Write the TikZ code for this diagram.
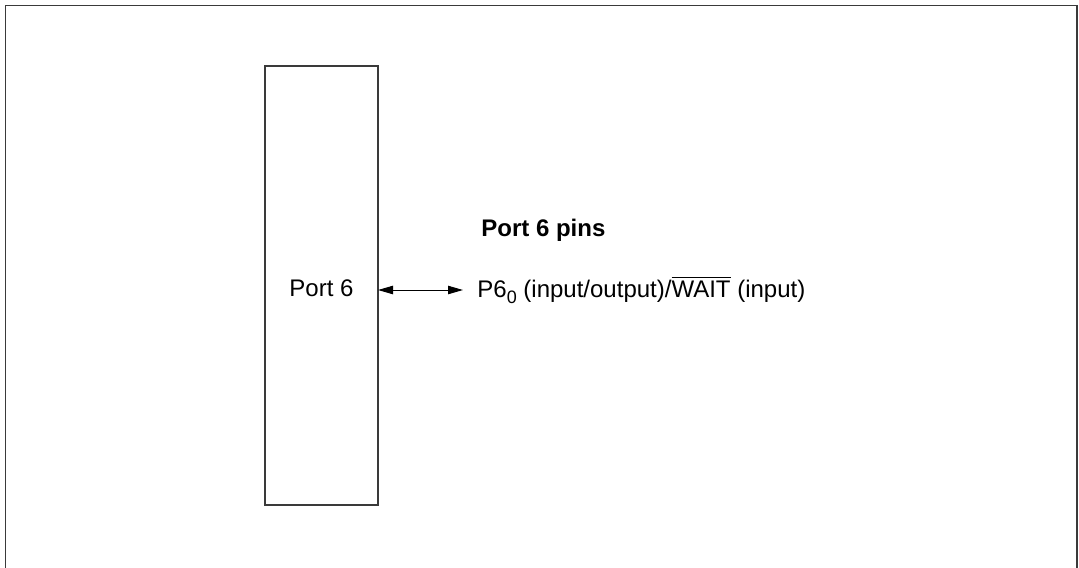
\documentclass[tikz,border=0pt]{standalone}
\usepackage{fontspec}
\setmainfont{Liberation Sans}
\usetikzlibrary{arrows.meta}
\definecolor{frameg}{HTML}{3A3A3A}
\begin{document}
\begin{tikzpicture}[x=0.5pt,y=-0.5pt,
  framestyle/.style={draw=frameg,line width=0.85pt},
  portbox/.style={draw=frameg,line width=0.75pt},
  lbl/.style={font=\fontsize{12}{14}\selectfont,inner sep=0pt},
  biarrow/.style={line width=0.5pt,{Triangle[length=7.5pt,width=4.2pt]}-{Triangle[length=7.5pt,width=4.2pt]}}]
\useasboundingbox (0,0) rectangle (1079,567);
\draw[framestyle] (5.5,570) -- (5.5,5.5) -- (1077,5.5) -- (1077,570);
\draw[portbox] (265,66) rectangle (378,505);
\coordinate (boxedge) at (378,290);
\node[lbl] (port) at (321.5,288) {Port 6};
\node[lbl,anchor=base west] (pins) at (481,236) {\bfseries Port 6 pins};
\node[lbl,anchor=base west] (p60) at (477,297) {P6\raisebox{-0.28em}{\fontsize{9}{10}\selectfont 0} (input/output)/$\overline{\mbox{WAIT}}$ (input)};
\coordinate (tip) at (463,290);
\draw[biarrow] (boxedge) -- (tip);
\end{tikzpicture}
\end{document}
